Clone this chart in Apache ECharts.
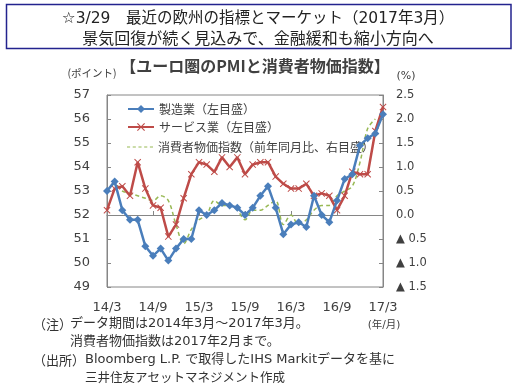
<!DOCTYPE html>
<html>
<head>
<meta charset="utf-8">
<script src="https://cdn.jsdelivr.net/npm/echarts@6/dist/echarts.min.js"></script>
<style>
html,body{margin:0;padding:0;background:#fff;}
#c{width:516px;height:387px;}
</style>
</head>
<body>
<div id="c"></div>
<script>
var months = ["14/3","14/4","14/5","14/6","14/7","14/8","14/9","14/10","14/11","14/12",
"15/1","15/2","15/3","15/4","15/5","15/6","15/7","15/8","15/9","15/10","15/11","15/12",
"16/1","16/2","16/3","16/4","16/5","16/6","16/7","16/8","16/9","16/10","16/11","16/12",
"17/1","17/2","17/3"];
var manufacturing = [53.0,53.4,52.2,51.8,51.8,50.7,50.3,50.6,50.1,50.6,51.0,51.0,52.2,52.0,52.2,52.5,52.4,52.3,52.0,52.3,52.8,53.2,52.3,51.2,51.6,51.7,51.5,52.8,52.0,51.7,52.6,53.5,53.7,54.9,55.2,55.4,56.2];
var services = [52.2,53.1,53.2,52.8,54.2,53.1,52.4,52.3,51.1,51.6,52.7,53.7,54.2,54.1,53.8,54.4,54.0,54.4,53.7,54.1,54.2,54.2,53.6,53.3,53.1,53.1,53.3,52.8,52.9,52.8,52.2,52.8,53.8,53.7,53.7,55.5,56.5];
var cpi = [0.5,0.65,0.5,0.45,0.4,0.35,0.3,0.4,0.3,-0.2,-0.6,-0.3,-0.1,0.0,0.3,0.2,0.2,0.1,-0.1,0.1,0.1,0.2,0.3,-0.2,0.0,-0.2,-0.1,0.1,0.2,0.2,0.4,0.5,0.6,1.1,1.8,2.0];
var seriesNames = ["製造業（左目盛）","サービス業（左目盛）","消費者物価指数（前年同月比、右目盛）"];
var leftTicks = {min:49, max:57, interval:1};
var rightTicks = {min:-1.5, max:2.5, interval:0.5};

var JP = '"Noto Sans CJK JP", sans-serif';
var MIX = '"DejaVu Sans", "Noto Sans CJK JP", sans-serif';
var NUM = '"DejaVu Sans", sans-serif';
var txt = '#404040';

var chart = echarts.init(document.getElementById('c'), null, {renderer:'canvas'});

var dashIcon = 'path://M0,0 H3 V1 H0 Z M5.5,0 H8.5 V1 H5.5 Z M11,0 H14 V1 H11 Z M16.5,0 H19.5 V1 H16.5 Z M22,0 H25 V1 H22 Z';

function legendOf(i, top, extra){
  var l = {
    data:[seriesNames[i]], left:122, top:top, orient:'horizontal',
    itemWidth:26, itemHeight:10, selectedMode:false,
    textStyle:{fontFamily:JP, fontSize:12, color:txt, lineHeight:14}
  };
  if (extra) { for (var k in extra) l[k] = extra[k]; }
  return l;
}

var xSym = 'path://M1,0 L5,4 L9,0 L10,1 L6,5 L10,9 L9,10 L5,6 L1,10 L0,9 L4,5 L0,1 Z';

chart.setOption({
  animation:false,
  backgroundColor:'#fff',
  grid:{left:107, right:133, top:95, bottom:100, show:true, borderColor:'#868686', borderWidth:1, containLabel:false},
  legend:[
    legendOf(0,97),
    legendOf(1,115),
    legendOf(2,135,{data:[{name:seriesNames[2], icon:dashIcon}], itemHeight:1.2})
  ],
  xAxis:{
    type:'category', data:months, boundaryGap:false,
    axisLine:{lineStyle:{color:'#868686'}},
    axisTick:{inside:true, length:4, interval:function(i){return i%6===0;}, lineStyle:{color:'#868686'}},
    axisLabel:{interval:function(i){return i%6===0;}, margin:14, fontFamily:NUM, fontSize:13, color:txt},
    splitLine:{show:false}
  },
  yAxis:[{
    type:'value', position:'left', min:leftTicks.min, max:leftTicks.max, interval:leftTicks.interval,
    axisLine:{show:true, lineStyle:{color:'#868686'}},
    axisTick:{show:true, inside:true, length:4, lineStyle:{color:'#868686'}},
    axisLabel:{margin:17, fontFamily:NUM, fontSize:13, color:txt},
    splitLine:{show:false}
  },{
    type:'value', position:'right', min:rightTicks.min, max:rightTicks.max, interval:rightTicks.interval,
    axisLine:{show:true, lineStyle:{color:'#868686'}},
    axisTick:{show:true, inside:true, length:4, lineStyle:{color:'#868686'}},
    axisLabel:{margin:13, fontFamily:NUM, fontSize:11.5, color:txt,
      formatter:function(v){ return v < 0 ? '▲ ' + Math.abs(v).toFixed(1) : v.toFixed(1); }},
    splitLine:{show:false}
  }],
  series:[{
    name:seriesNames[0], type:'line', yAxisIndex:0, data:manufacturing,
    symbol:'diamond', symbolSize:8, showAllSymbol:true,
    lineStyle:{color:'#4A7EBB', width:2.5}, itemStyle:{color:'#4A7EBB'}, z:4
  },{
    name:seriesNames[1], type:'line', yAxisIndex:0, data:services,
    symbol:xSym, symbolSize:7, showAllSymbol:true,
    lineStyle:{color:'#BE4B48', width:2.5}, itemStyle:{color:'#BE4B48'}, z:3
  },{
    name:seriesNames[2], type:'line', yAxisIndex:1, data:cpi,
    symbol:'none', smooth:0.35,
    lineStyle:{color:'#98B954', width:1.5, type:[4,3]}, itemStyle:{color:'#98B954'}, z:2
  }],
  graphic:[
    {type:'rect', shape:{x:6.5, y:4.5, width:504.5, height:44}, style:{fill:'none', stroke:'#23238E', lineWidth:1.5}},
    {type:'text', x:258, y:19, style:{text:'☆3/29　最近の欧州の指標とマーケット（2017年3月）', font:'15.5px '+MIX, fill:'#222', align:'center', verticalAlign:'middle'}},
    {type:'text', x:258, y:38, style:{text:'景気回復が続く見込みで、金融緩和も縮小方向へ', font:'16px '+JP, fill:'#222', align:'center', verticalAlign:'middle'}},
    {type:'text', x:255, y:66, style:{text:'【ユーロ圏のPMIと消費者物価指数】', font:'bold 16px '+JP, fill:'#404040', align:'center', verticalAlign:'middle'}},
    {type:'text', x:92, y:73, style:{text:'(ポイント)', font:'10.5px '+JP, fill:txt, align:'center', verticalAlign:'middle'}},
    {type:'text', x:406, y:76, style:{text:'(%)', font:'11px '+NUM, fill:txt, align:'center', verticalAlign:'middle'}},
    {type:'text', x:384, y:325, style:{text:'(年/月)', font:'10.5px '+MIX, fill:txt, align:'center', verticalAlign:'middle'}},
    {type:'text', x:33, y:324, style:{text:'（注）', font:'13px '+JP, fill:'#333', align:'left', verticalAlign:'middle'}},
    {type:'text', x:70, y:324, style:{text:'データ期間は2014年3月～2017年3月。', font:'13px '+MIX, fill:'#333', align:'left', verticalAlign:'middle'}},
    {type:'text', x:70, y:342, style:{text:'消費者物価指数は2017年2月まで。', font:'13px '+MIX, fill:'#333', align:'left', verticalAlign:'middle'}},
    {type:'text', x:33, y:360, style:{text:'（出所）', font:'13px '+JP, fill:'#333', align:'left', verticalAlign:'middle'}},
    {type:'text', x:85, y:360, style:{text:'Bloomberg L.P. で取得したIHS Markitデータを基に', font:'13px '+MIX, fill:'#333', align:'left', verticalAlign:'middle'}},
    {type:'text', x:85, y:377, style:{text:'三井住友アセットマネジメント作成', font:'12.5px '+JP, fill:'#333', align:'left', verticalAlign:'middle'}}
  ]
});
</script>
</body>
</html>
